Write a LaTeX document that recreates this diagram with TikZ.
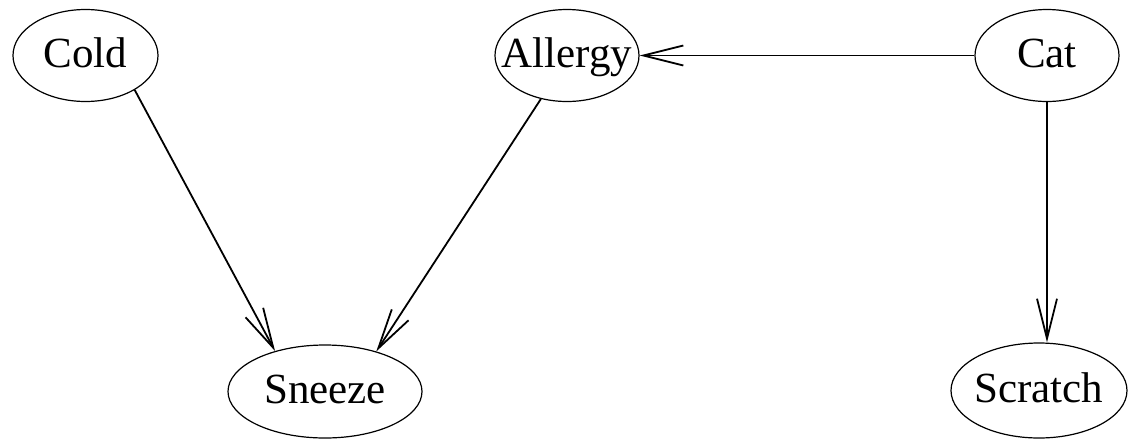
\documentclass[tikz,border=0pt]{standalone}
\usepackage{fontspec}
\setmainfont{Liberation Serif}
\usetikzlibrary{shapes.geometric,arrows.meta}
\begin{document}
\begin{tikzpicture}[x=1pt,y=-1pt,
  var/.style={ellipse,draw,line width=1.2pt,inner sep=0pt,
    text height=31pt,text depth=8pt,
    font=\fontsize{43}{50}\selectfont},
  edge/.style={line width=1.8pt,
    -{Straight Barb[length=40pt,width=20pt,line width=1.8pt]}}]
\useasboundingbox (0,0) rectangle (1128,440);
% variables
\node[var,minimum width=145pt,minimum height=92pt] (cold) at (85.5,55.5) {\makebox[0pt]{Cold}};
\node[var,minimum width=144pt,minimum height=92pt] (allergy) at (567,55.5) {\makebox[0pt]{Allergy}};
\node[var,minimum width=144pt,minimum height=92pt] (cat) at (1047,55.5) {\makebox[0pt]{Cat}};
\node[var,minimum width=194pt,minimum height=93pt] (sneeze) at (325,391.5) {\makebox[0pt]{Sneeze}};
\node[var,minimum width=176pt,minimum height=95pt] (scratch) at (1039,390.5) {\makebox[0pt]{Scratch}};
% dependencies
\draw[edge] (cold.-35) -- (sneeze.141.5);
\draw[edge] (allergy.-121) -- (sneeze.38.5);
\draw[edge] (cat.west) -- (allergy.east);
\draw[edge] (cat.south) -- (cat.south |- scratch.north);
\end{tikzpicture}
\end{document}
